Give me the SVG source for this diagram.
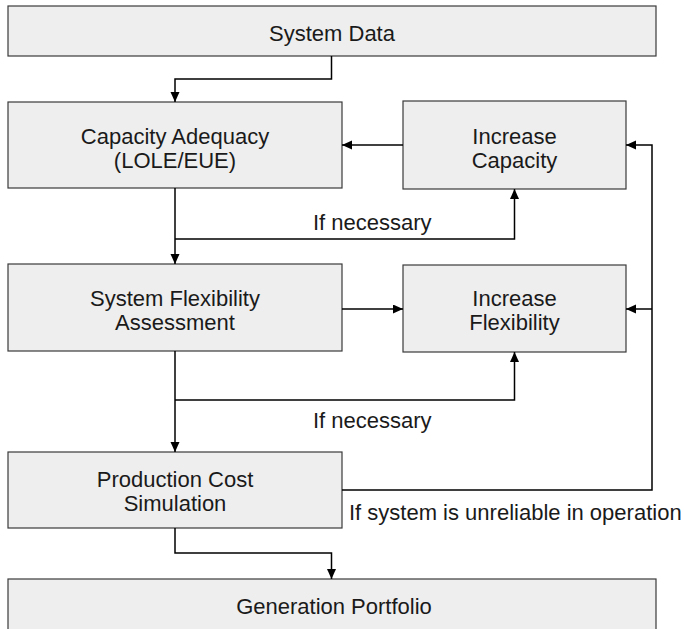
<svg xmlns="http://www.w3.org/2000/svg" width="684" height="629" viewBox="0 0 684 629">
<defs>
<marker id="arr" markerUnits="userSpaceOnUse" markerWidth="10" markerHeight="10" refX="10" refY="4.5" orient="auto">
<path d="M0,0 L10,4.5 L0,9 z" fill="#000"/>
</marker>
<style>
.box{fill:#eeeeee;stroke:#3a3a3a;stroke-width:1.2}
.t{font-family:"Liberation Sans",Arial,sans-serif;font-size:22px;fill:#1a1a1a;text-anchor:middle}
.l{font-family:"Liberation Sans",Arial,sans-serif;font-size:22px;fill:#1a1a1a}
.c{fill:none;stroke:#000;stroke-width:1.5}
</style>
</defs>
<rect width="684" height="629" fill="#fff"/>
<g id="system-data">
<rect class="box" x="8" y="6" width="648" height="50"/>
<text class="t" x="332" y="41">System Data</text>
</g>
<g id="capacity-adequacy">
<rect class="box" x="8" y="102" width="334" height="86"/>
<text class="t" x="175" y="144">Capacity Adequacy</text>
<text class="t" x="175" y="168">(LOLE/EUE)</text>
</g>
<g id="increase-capacity">
<rect class="box" x="403" y="101" width="223" height="88"/>
<text class="t" x="514.5" y="144">Increase</text>
<text class="t" x="514.5" y="168">Capacity</text>
</g>
<g id="system-flexibility">
<rect class="box" x="8" y="264" width="334" height="87"/>
<text class="t" x="175" y="306">System Flexibility</text>
<text class="t" x="175" y="330">Assessment</text>
</g>
<g id="increase-flexibility">
<rect class="box" x="403" y="265" width="223" height="87"/>
<text class="t" x="514.5" y="306">Increase</text>
<text class="t" x="514.5" y="330">Flexibility</text>
</g>
<g id="production-cost">
<rect class="box" x="8" y="452" width="334" height="76"/>
<text class="t" x="175" y="487">Production Cost</text>
<text class="t" x="175" y="511">Simulation</text>
</g>
<g id="generation-portfolio">
<rect class="box" x="8" y="579" width="648" height="70"/>
<text class="t" x="334" y="614">Generation Portfolio</text>
</g>
<g id="connectors">
<path class="c" d="M331.5,56 V79 H175 V102" marker-end="url(#arr)"/>
<path class="c" d="M403,145 H342" marker-end="url(#arr)"/>
<path class="c" d="M175,188 V264" marker-end="url(#arr)"/>
<path class="c" d="M175,239 H514.5 V189" marker-end="url(#arr)"/>
<path class="c" d="M342,309 H403" marker-end="url(#arr)"/>
<path class="c" d="M175,351 V452" marker-end="url(#arr)"/>
<path class="c" d="M175,400 H514.5 V352" marker-end="url(#arr)"/>
<path class="c" d="M342,490 H652 V145 H626" marker-end="url(#arr)"/>
<path class="c" d="M652,309 H626" marker-end="url(#arr)"/>
<path class="c" d="M175,528 V553 H331.5 V579" marker-end="url(#arr)"/>
</g>
<g id="labels">
<text class="l" x="313" y="230">If necessary</text>
<text class="l" x="313" y="428">If necessary</text>
<text class="l" x="349" y="520">If system is unreliable in operation</text>
</g>
</svg>
